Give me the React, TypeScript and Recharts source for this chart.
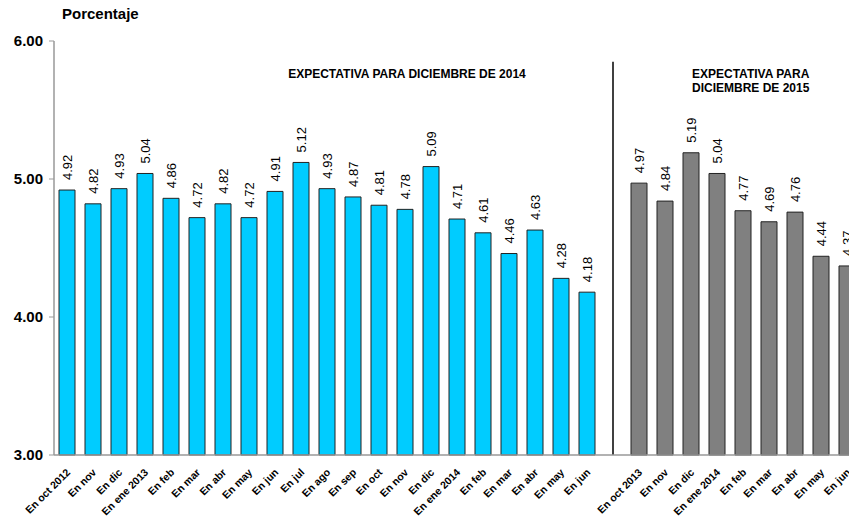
import React from "react";
import { BarChart, Bar, XAxis, YAxis, Cell, LabelList, ReferenceLine } from "recharts";

const labels2014 = [
  "En oct 2012", "En nov", "En dic", "En ene 2013", "En feb", "En mar", "En abr",
  "En may", "En jun", "En jul", "En ago", "En sep", "En oct", "En nov", "En dic",
  "En ene 2014", "En feb", "En mar", "En abr", "En may", "En jun",
];
const values2014 = [
  4.92, 4.82, 4.93, 5.04, 4.86, 4.72, 4.82, 4.72, 4.91, 5.12, 4.93, 4.87, 4.81,
  4.78, 5.09, 4.71, 4.61, 4.46, 4.63, 4.28, 4.18,
];
const labels2015 = [
  "En oct 2013", "En nov", "En dic", "En ene 2014", "En feb", "En mar", "En abr", "En may", "En jun",
];
const values2015 = [4.97, 4.84, 5.19, 5.04, 4.77, 4.69, 4.76, 4.44, 4.37];
const yTicks = [3, 4, 5, 6];

const CYAN = "#00CCFF";
const GRAY = "#808080";
const FONT = "Arial, 'Liberation Sans', sans-serif";

type Row = { key: string; label: string; value: number | null; group: string };

const data: Row[] = [
  ...labels2014.map((label, i) => ({ key: `a${i}`, label, value: values2014[i], group: "2014" })),
  { key: "gap", label: "", value: null, group: "gap" },
  ...labels2015.map((label, i) => ({ key: `b${i}`, label, value: values2015[i], group: "2015" })),
];

const XTick = (props: any) => {
  const { x, y, payload } = props;
  const row = data[payload.index];
  if (!row || !row.label) return null;
  return (
    <text
      x={x + 4}
      y={y + 10}
      transform={`rotate(-45, ${x + 4}, ${y + 10})`}
      textAnchor="end"
      fontSize={10.5}
      fontWeight="bold"
      fontFamily={FONT}
      fill="#000"
    >
      {row.label}
    </text>
  );
};

const ValueLabel = (props: any) => {
  const { x, y, width, value } = props;
  if (value == null) return null;
  const cx = x + width / 2 + 5;
  const cy = y - 10;
  return (
    <text
      x={cx}
      y={cy}
      transform={`rotate(-90, ${cx}, ${cy})`}
      textAnchor="start"
      fontSize={13}
      fontFamily={FONT}
      fill="#000"
    >
      {Number(value).toFixed(2)}
    </text>
  );
};

export default function App() {
  return (
    <div style={{ position: "fixed", left: 0, top: 0, width: 849, height: 517, overflow: "hidden", background: "#fff" }}>
      <div style={{ position: "absolute", left: 62, top: 5, fontFamily: FONT, fontWeight: "bold", fontSize: 15 }}>
        Porcentaje
      </div>
      <div
        style={{
          position: "absolute", left: 250, width: 314, top: 67, textAlign: "center",
          fontFamily: FONT, fontWeight: "bold", fontSize: 12,
        }}
      >
        EXPECTATIVA PARA DICIEMBRE DE 2014
      </div>
      <div
        style={{
          position: "absolute", left: 692, top: 67, lineHeight: "14px",
          fontFamily: FONT, fontWeight: "bold", fontSize: 12,
        }}
      >
        EXPECTATIVA PARA
        <br />
        DICIEMBRE DE 2015
      </div>
      <BarChart
        width={880}
        height={517}
        data={data}
        margin={{ top: 41, right: 20, bottom: 0, left: 0 }}
        barSize={16}
      >
        <XAxis
          dataKey="key"
          interval={0}
          tick={<XTick />}
          tickLine={false}
          axisLine={{ stroke: "#999", strokeWidth: 1.5 }}
          height={62}
        />
        <YAxis
          domain={[3, 6]}
          ticks={yTicks}
          width={54}
          tickSize={5}
          tickMargin={6}
          tickFormatter={(v: number) => v.toFixed(2)}
          tick={{ fontSize: 15, fontWeight: "bold", fontFamily: FONT, fill: "#000" }}
          tickLine={{ stroke: "#999" }}
          axisLine={{ stroke: "#999", strokeWidth: 1.5 }}
        />
        <ReferenceLine
          segment={[{ x: "gap", y: 3 }, { x: "gap", y: 5.85 }]}
          stroke="#000"
          strokeWidth={1.5}
        />
        <Bar dataKey="value" isAnimationActive={false} stroke="#222" strokeWidth={1}>
          {data.map((d) => (
            <Cell key={d.key} fill={d.group === "2015" ? GRAY : CYAN} />
          ))}
          <LabelList dataKey="value" content={<ValueLabel />} />
        </Bar>
      </BarChart>
    </div>
  );
}
